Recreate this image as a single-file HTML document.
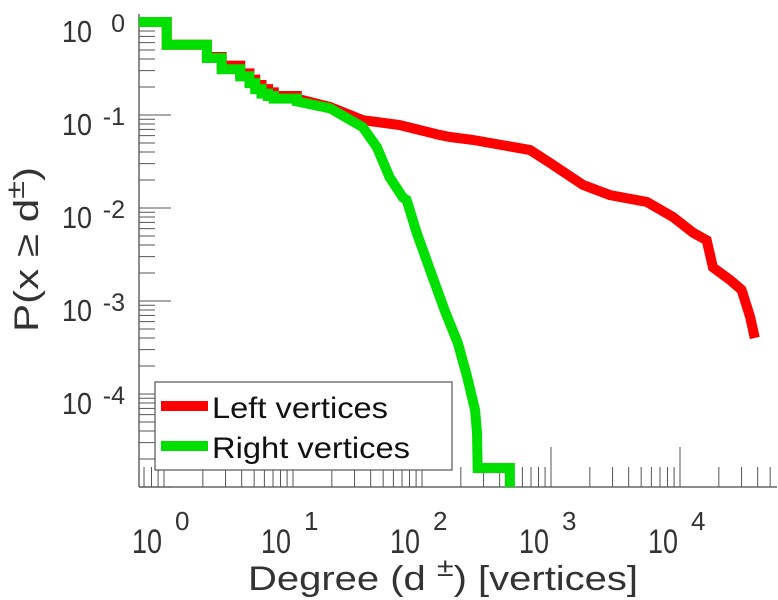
<!DOCTYPE html>
<html><head><meta charset="utf-8"><style>
body{margin:0;background:#fff;}
svg{display:block;font-family:"Liberation Sans",sans-serif;}
</style></head><body>
<svg id="chart" width="778" height="600" viewBox="0 0 778 600" xmlns="http://www.w3.org/2000/svg">
<g id="axes"></g>
<g id="series"></g>
<g>
  <rect x="155" y="382" width="297" height="88" fill="#fff" stroke="#555" stroke-width="1.2"/>
  <line x1="161" y1="406" x2="208" y2="406" stroke="#ff0000" stroke-width="10"/>
  <text x="212" y="418" font-size="30" textLength="176" lengthAdjust="spacingAndGlyphs" fill="#111">Left vertices</text>
  <line x1="161" y1="446" x2="208" y2="446" stroke="#00e000" stroke-width="10"/>
  <text x="212" y="458" font-size="30" textLength="198" lengthAdjust="spacingAndGlyphs" fill="#111">Right vertices</text>
</g>
<text x="248" y="590" font-size="34" textLength="390" lengthAdjust="spacingAndGlyphs" fill="#333">Degree (d   <tspan dy="-14" font-size="26">±</tspan><tspan dy="14">) [vertices]</tspan></text>
<text transform="translate(38,332) rotate(-90)" font-size="34" textLength="165" lengthAdjust="spacingAndGlyphs" fill="#333">P(x ≥ d<tspan dy="-14" font-size="26">±</tspan><tspan dy="14">)</tspan></text>
</svg>
<script>
const xTicks = [0,1,2,3,4];
const yTicks = [0,-1,-2,-3,-4];
const leftDeg = [0.64,1.05,2.15,2.8,3.9,4.6,5.1,5.7,6.4,7.1,10.7,19.4,34.7,67,137,165,247,688,983,1770,2850,5550,8830,12700,16100,18000,24500,30000,35000,38000];
const leftP   = [1,0.57,0.42,0.34,0.28,0.24,0.21,0.19,0.175,0.16,0.15,0.122,0.088,0.078,0.061,0.058,0.054,0.042,0.0305,0.0177,0.0138,0.0116,0.008,0.0054,0.0045,0.0023,0.00168,0.00132,0.00067,0.0004];
const rightDeg = [0.64,1.05,2.15,2.8,3.9,4.6,5.1,5.7,6.4,7.1,10.7,19.4,34.7,44.7,56,71,76,91,121,150,190,224,258,267,270,480];
const rightP   = [1,0.57,0.41,0.31,0.26,0.22,0.19,0.17,0.16,0.15,0.14,0.118,0.074,0.045,0.0215,0.013,0.0122,0.0054,0.0018,0.00079,0.00035,0.000152,0.000067,0.000038,0.000016,0.00001];

const X0=139, X1=777, Y0=22, Y1=487;
function sx(d){return 164+(Math.log10(d))*129;}
function sy(p){return Y0+(-Math.log10(p))*93;}
const NS="http://www.w3.org/2000/svg";
const axes=document.getElementById('axes'), series=document.getElementById('series');
function mk(tag,attrs,parent){const e=document.createElementNS(NS,tag);for(const k in attrs)e.setAttribute(k,attrs[k]);parent.appendChild(e);return e;}

let s1=mk('line',{x1:X0,y1:Y0-8,x2:X0,y2:Y1,stroke:'#666','stroke-width':1.5},axes);


let s2=mk('line',{x1:X0,y1:Y1,x2:X1,y2:Y1,stroke:'#666','stroke-width':1.5},axes);



for(let e=0;e>=-5;e--){
  for(let m=1;m<10;m++){
    const val=m*Math.pow(10,e);
    if(e===0&&m>1)break;
    const y=sy(val); if(y>Y1||y<Y0-1)continue;
    const len=(m===1)?32:16;
    let t=mk('line',{x1:X0,y1:y,x2:X0+len,y2:y,stroke:'#555','stroke-width':1},axes);
    
    
  }
}
yTicks.forEach(e=>{
  const y=sy(Math.pow(10,e));
  let t=mk('text',{x:92,y:y+20,'font-size':31,'text-anchor':'end',textLength:30,lengthAdjust:'spacingAndGlyphs',fill:'#333'},axes);
  
  
  t.textContent='10';
  let s=mk('text',{x:125,y:y+10,'font-size':25,'text-anchor':'end',fill:'#333'},axes);
  
  
  s.textContent=(e===0?'0':String(e));
});
for(let e=-1;e<=4;e++){
  for(let m=1;m<10;m++){
    const val=m*Math.pow(10,e); const x=sx(val);
    if(x<X0||x>X1)continue;
    const len=(m===1)?40:20;
    let t=mk('line',{x1:x,y1:Y1,x2:x,y2:Y1-len,stroke:'#555','stroke-width':1},axes);
    
    
  }
}
xTicks.forEach(e=>{
  const x=sx(Math.pow(10,e));
  let t=mk('text',{x:x-32,y:553,'font-size':34,textLength:30,lengthAdjust:'spacingAndGlyphs',fill:'#333'},axes);
  
  
  t.textContent='10';
  let s=mk('text',{x:x+11,y:530,'font-size':26,fill:'#333'},axes);
  
  
  s.textContent=String(e);
});

function seriesPath(ds,ps,lastStep){
  let d='';
  for(let i=0;i<ds.length;i++){
    const x=Math.max(X0,sx(ds[i])), y=Math.min(Y1,sy(ps[i]));
    if(i===0){d+='M'+x+','+y;continue;}
    const step = ds[i]<=11 || (lastStep && i===ds.length-1);
    if(step) d+=' L'+x+','+Math.min(Y1,sy(ps[i-1]))+' L'+x+','+y;
    else d+=' L'+x+','+y;
  }
  return d;
}
let r=mk('path',{d:seriesPath(leftDeg,leftP,false),fill:'none',stroke:'#ff0000','stroke-width':10,'stroke-linejoin':'miter'},series);


let g=mk('path',{d:seriesPath(rightDeg,rightP,true),fill:'none',stroke:'#00e000','stroke-width':10,'stroke-linejoin':'miter'},series);


</script>
</body></html>
